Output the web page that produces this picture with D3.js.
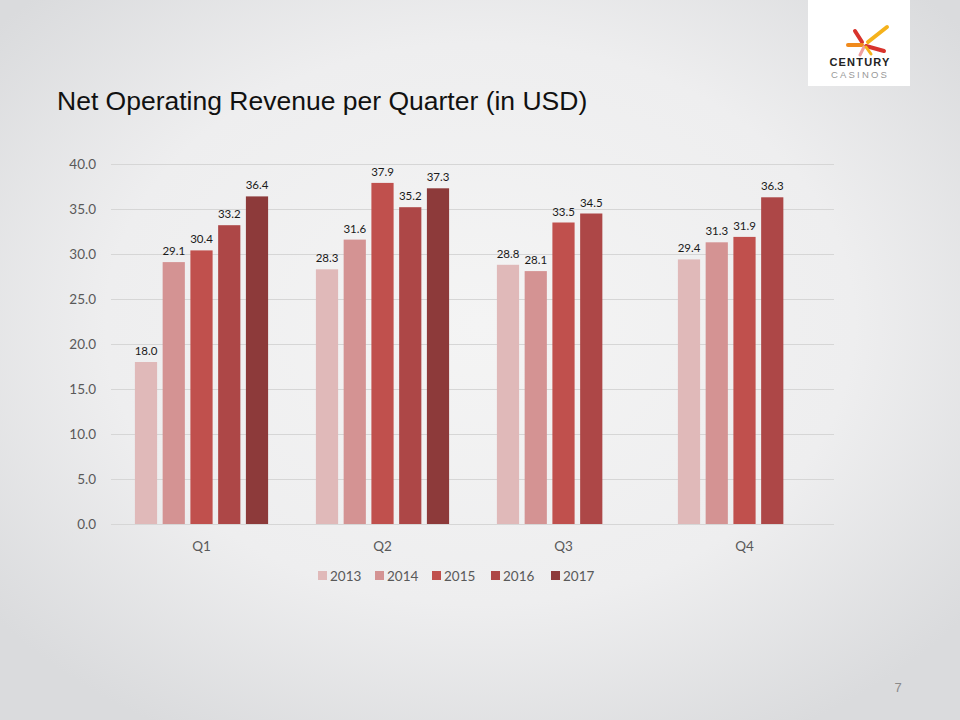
<!DOCTYPE html>
<html><head><meta charset="utf-8">
<script src="https://cdn.jsdelivr.net/npm/d3@7"></script>
<style>html,body{margin:0;padding:0;}svg{display:block;}</style>
</head><body>
<script>
const quarters = ["Q1","Q2","Q3","Q4"];
const years = ["2013","2014","2015","2016","2017"];
const v2013 = [18.0, 28.3, 28.8, 29.4];
const v2014 = [29.1, 31.6, 28.1, 31.3];
const v2015 = [30.4, 37.9, 33.5, 31.9];
const v2016 = [33.2, 35.2, 34.5, 36.3];
const v2017 = [36.4, 37.3, null, null];
const yTicks = [0,5,10,15,20,25,30,35,40];
const colors = ["#e0b9b9","#d49393","#c0504d","#ad4747","#8d3a3a"];
const seriesVals = [v2013, v2014, v2015, v2016, v2017];

const W = 960, H = 720;
const svg = d3.select("body").append("svg").attr("width", W).attr("height", H);
const defs = svg.append("defs");
const grad = defs.append("radialGradient").attr("id","bg").attr("cx","50%").attr("cy","45%").attr("r","65%");
grad.append("stop").attr("offset","0%").attr("stop-color","#f4f4f4");
grad.append("stop").attr("offset","60%").attr("stop-color","#eeeeef");
grad.append("stop").attr("offset","100%").attr("stop-color","#dadbdd");
svg.append("rect").attr("width",W).attr("height",H).attr("fill","url(#bg)");

// Logo
const logo = svg.append("g");
logo.append("rect").attr("x",808).attr("y",0).attr("width",102).attr("height",86).attr("fill","#ffffff");
const rays = [
  {x1:862,y1:42,x2:855,y2:31,c:"#d8332c",w:4},
  {x1:868,y1:42,x2:887,y2:27,c:"#f5b21b",w:4},
  {x1:862,y1:45,x2:848,y2:45,c:"#f08a1c",w:4},
  {x1:866,y1:46,x2:884,y2:51,c:"#d8332c",w:4},
  {x1:864,y1:47,x2:860,y2:55,c:"#f0a0a0",w:3},
  {x1:866,y1:47,x2:871,y2:54,c:"#f5b21b",w:3}
];
logo.selectAll("line.ray").data(rays).join("line").attr("class","ray")
  .attr("x1",d=>d.x1).attr("y1",d=>d.y1).attr("x2",d=>d.x2).attr("y2",d=>d.y2)
  .attr("stroke",d=>d.c).attr("stroke-width",d=>d.w).attr("stroke-linecap","round");
logo.append("text").attr("x",860).attr("y",66).attr("text-anchor","middle")
  .attr("font-family","Liberation Sans, Arial, sans-serif").attr("font-weight","bold")
  .attr("font-size",11).attr("letter-spacing",1.2).attr("fill","#222").text("CENTURY");
logo.append("text").attr("x",860).attr("y",78).attr("text-anchor","middle")
  .attr("font-family","Liberation Sans, Arial, sans-serif")
  .attr("font-size",9.5).attr("letter-spacing",2.2).attr("fill","#999").text("CASINOS");

// Title
svg.append("text").attr("x",57).attr("y",110)
  .attr("font-family","Liberation Sans, Arial, sans-serif").attr("font-size",26.5)
  .attr("fill","#111").text("Net Operating Revenue per Quarter (in USD)");

// Chart
const x0 = d3.scaleBand().domain(quarters).range([111,835]).paddingInner(0).paddingOuter(0);
const step = 27.75;
const y = d3.scaleLinear().domain([0,40]).range([524,164]);
const labelFont = "Lato, 'Open Sans', 'DejaVu Sans', sans-serif";

svg.append("g").selectAll("line").data(yTicks).join("line")
  .attr("x1",111).attr("x2",834).attr("y1",d=>y(d)).attr("y2",d=>y(d))
  .attr("stroke","#d6d6d6").attr("stroke-width",1).attr("shape-rendering","crispEdges");

const yAxis = d3.axisLeft(y).tickValues(yTicks).tickFormat(d3.format(".1f")).tickSize(0).tickPadding(0);
const ya = svg.append("g").attr("transform","translate(96,0)").call(yAxis);
ya.select(".domain").remove();
ya.selectAll("text").attr("font-family",labelFont).attr("font-size",13.5).attr("fill","#595959").attr("dy","0.35em");

const xAxis = d3.axisBottom(x0).tickSize(0).tickPadding(0);
const xa = svg.append("g").attr("transform","translate(0,541)").call(xAxis);
xa.select(".domain").remove();
xa.selectAll("text").attr("font-family",labelFont).attr("font-size",13.5).attr("fill","#595959");

const barData = [];
quarters.forEach((q,qi)=>{
  years.forEach((yr,si)=>{
    const v = seriesVals[si][qi];
    if (v !== null && v !== undefined) barData.push({q, yr, si, v});
  });
});
const x1 = d3.scaleBand().domain(years).range([-2.5*step, 2.5*step]).paddingInner(0.2).paddingOuter(0.1);
const cx = d => x0(d.q) + x0.bandwidth()/2;

svg.append("g").selectAll("rect").data(barData).join("rect")
  .attr("x", d => cx(d) + x1(d.yr))
  .attr("width", x1.bandwidth())
  .attr("y", d => y(d.v))
  .attr("height", d => y(0) - y(d.v))
  .attr("fill", d => colors[d.si]);

svg.append("g").selectAll("text").data(barData).join("text")
  .attr("x", d => cx(d) + x1(d.yr) + x1.bandwidth()/2)
  .attr("y", d => y(d.v) - 7)
  .attr("text-anchor","middle")
  .attr("font-family",labelFont).attr("font-size",11.5).attr("fill","#1a1a1a")
  .text(d => d3.format(".1f")(d.v));

// Legend
const legX = [318, 375, 432, 491, 551];
const leg = svg.append("g").selectAll("g").data(years).join("g")
  .attr("transform",(d,i)=>`translate(${legX[i]},576)`);
leg.append("rect").attr("x",0).attr("y",-5).attr("width",9).attr("height",9).attr("fill",(d,i)=>colors[i]);
leg.append("text").attr("x",12).attr("y",0).attr("dy","0.35em")
  .attr("font-family",labelFont).attr("font-size",13.5).attr("fill","#595959").text(d=>d);

// Page number
svg.append("text").attr("x",898).attr("y",692).attr("text-anchor","middle")
  .attr("font-family","Liberation Sans, Arial, sans-serif").attr("font-size",13).attr("fill","#8a8a8a").text("7");
</script>
</body></html>
